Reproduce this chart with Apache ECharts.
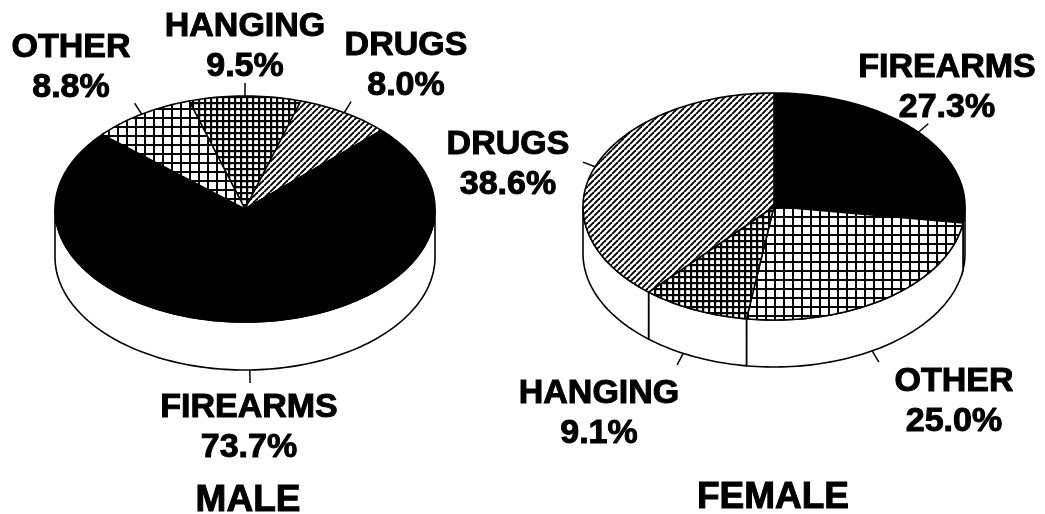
<!DOCTYPE html>
<html>
<head>
<meta charset="utf-8">
<style>html,body{margin:0;padding:0;background:#fff}#c{width:1045px;height:514px}</style>
<script src="https://cdn.jsdelivr.net/npm/echarts@6/dist/echarts.min.js"></script>
</head>
<body>
<div id="c"></div>
<script>
// Data (clockwise order)
const maleCategories = ['HANGING', 'DRUGS', 'FIREARMS', 'OTHER'];
const maleValues = [9.5, 8.0, 73.7, 8.8];
const femaleCategories = ['FIREARMS', 'OTHER', 'HANGING', 'DRUGS'];
const femaleValues = [27.3, 25.0, 9.1, 38.6];
const chartTitles = ['MALE', 'FEMALE'];

// Geometry of the two tilted discs
const maleDisc = {cx: 245, cy: 209, rx: 190, ry: 113, depth: 48, startDeg: -17.1};
const femaleDisc = {cx: 774, cy: 206.5, rx: 191, ry: 113.5, depth: 47, startDeg: 0};

const FONT = '"Liberation Sans", Arial, sans-serif';

function tile(w, h, draw) {
  const c = document.createElement('canvas');
  c.width = w; c.height = h;
  const g = c.getContext('2d');
  g.fillStyle = '#fff'; g.fillRect(0, 0, w, h);
  g.strokeStyle = '#000'; g.fillStyle = '#000';
  draw(g, w, h);
  return {image: c, repeat: 'repeat'};
}
const patterns = {
  FIREARMS: '#000',
  DRUGS: tile(6, 6, (g) => {
    g.lineWidth = 1.9;
    for (let k = -6; k <= 12; k += 6) { g.beginPath(); g.moveTo(k, 6); g.lineTo(k + 6, 0); g.stroke(); }
  }),
  OTHER: tile(9, 9, (g) => { g.fillRect(0, 0, 9, 2); g.fillRect(0, 0, 2, 9); }),
  HANGING: tile(6, 6, (g) => { g.fillRect(0, 0, 6, 2.2); g.fillRect(0, 0, 2.2, 6); })
};

const labelPos = {
  male: {HANGING: [245, 47], DRUGS: [406, 66], OTHER: [71, 68], FIREARMS: [249, 428]},
  female: {FIREARMS: [947, 88], OTHER: [954, 401.5], HANGING: [599, 413.5], DRUGS: [508, 165]}
};
const leaderShift = {
  male: {},
  female: {OTHER: 5.8, HANGING: 3.7}
};

function pt(d, deg, dy) {
  const a = deg * Math.PI / 180;
  return [d.cx + d.rx * Math.sin(a), d.cy - d.ry * Math.cos(a) + (dy || 0)];
}
function arc(d, from, to, dy) {
  const n = Math.max(2, Math.ceil(Math.abs(to - from) / 1.5));
  const out = [];
  for (let i = 0; i <= n; i++) out.push(pt(d, from + (to - from) * i / n, dy));
  return out;
}

function discSeries(key, cats, vals, disc) {
  let run = 0;
  const data = cats.map((c, i) => { const s = run; run += vals[i]; return [s, vals[i], i]; });
  return {
    type: 'custom',
    coordinateSystem: 'none',
    silent: true,
    data: data,
    renderItem: function (params, api) {
      const start = disc.startDeg + api.value(0) * 3.6;
      const end = start + api.value(1) * 3.6;
      const cat = cats[api.value(2)];
      const children = [];
      // wall of the disc: visible where the slice crosses the front half
      const a = Math.max(start, 90), b = Math.min(end, 270);
      if (b > a) {
        children.push({
          type: 'polygon',
          shape: {points: arc(disc, a, b, 0).concat(arc(disc, b, a, disc.depth))},
          style: {fill: '#fff', stroke: '#000', lineWidth: 1.6}
        });
      }
      // top face
      children.push({
        type: 'polygon',
        shape: {points: [[disc.cx, disc.cy]].concat(arc(disc, start, end, 0))},
        style: {fill: patterns[cat], stroke: '#000', lineWidth: 1.6, lineJoin: 'round'}
      });
      // leader tick from the middle of the slice
      const mid = (start + end) / 2 + (leaderShift[key][cat] || 0), rad = mid * Math.PI / 180;
      const front = Math.cos(rad) < 0;
      const p = pt(disc, mid, front ? disc.depth : 0);
      children.push({
        type: 'line',
        shape: {x1: p[0], y1: p[1], x2: p[0] + 13 * Math.sin(rad), y2: p[1] - 13 * Math.cos(rad)},
        style: {stroke: '#000', lineWidth: 1.5}
      });
      // label
      const lp = labelPos[key][cat];
      children.push({
        type: 'text',
        x: lp[0], y: lp[1],
        style: {
          text: cat + '\n' + api.value(1).toFixed(1) + '%',
          font: 'bold 34px ' + FONT,
          lineHeight: 40,
          fill: '#000', stroke: '#000', lineWidth: 1,
          align: 'center', verticalAlign: 'middle'
        }
      });
      return {type: 'group', children: children};
    }
  };
}

const titleStyle = {fontFamily: FONT, fontWeight: 'bold', fontSize: 37, color: '#000', textBorderColor: '#000', textBorderWidth: 1};
const chart = echarts.init(document.getElementById('c'), null, {renderer: 'canvas'});
chart.setOption({
  backgroundColor: '#fff',
  animation: false,
  title: [
    {text: chartTitles[0], left: 248, top: 501, textAlign: 'center', textVerticalAlign: 'middle', padding: 0, textStyle: titleStyle},
    {text: chartTitles[1], left: 773, top: 498, textAlign: 'center', textVerticalAlign: 'middle', padding: 0, textStyle: titleStyle}
  ],
  series: [
    discSeries('male', maleCategories, maleValues, maleDisc),
    discSeries('female', femaleCategories, femaleValues, femaleDisc)
  ]
});
</script>
</body>
</html>
